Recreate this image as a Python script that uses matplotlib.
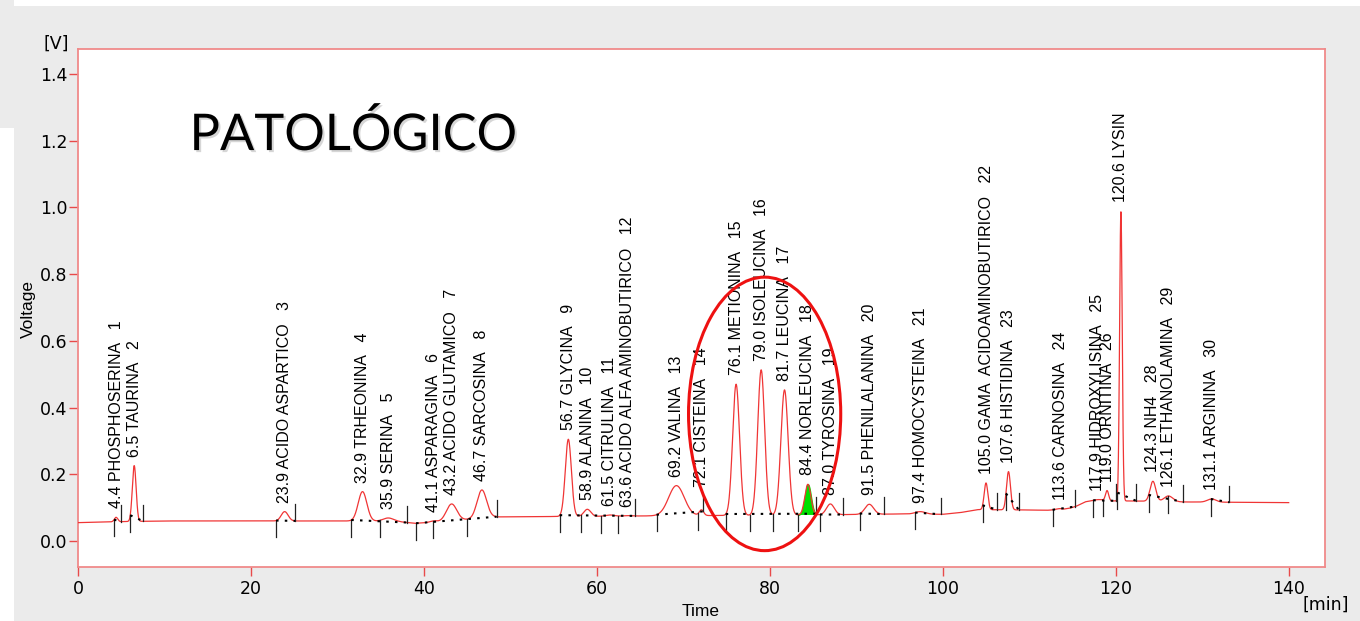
import numpy as np
import matplotlib
matplotlib.use('Agg')
import matplotlib.pyplot as plt
import matplotlib.patheffects as pe
from matplotlib.patches import Ellipse, Rectangle
from matplotlib import font_manager

# peak table
peak_times = [4.4, 6.5, 23.9, 32.9, 35.9, 41.1, 43.2, 46.7, 56.7, 58.9, 61.5, 63.6, 69.2, 72.1, 76.1,
              79.0, 81.7, 84.4, 87.0, 91.5, 97.4, 105.0, 107.6, 113.6, 117.9, 119.0, 120.6, 124.3, 126.1, 131.1]
peak_names = ['PHOSPHOSERINA', 'TAURINA', 'ACIDO ASPARTICO', 'TRHEONINA', 'SERINA', 'ASPARAGINA',
              'ACIDO GLUTAMICO', 'SARCOSINA', 'GLYCINA', 'ALANINA', 'CITRULINA', 'ACIDO ALFA AMINOBUTIRICO',
              'VALINA', 'CISTEINA', 'METIONINA', 'ISOLEUCINA', 'LEUCINA', 'NORLEUCINA', 'TYROSINA',
              'PHENILALANINA', 'HOMOCYSTEINA', 'GAMA  ACIDOAMINOBUTIRICO', 'HISTIDINA', 'CARNOSINA',
              'HIDROXYLISINA', 'ORNITINA', 'LYSIN', 'NH4', 'ETHANOLAMINA', 'ARGININA']
peak_ids = ['1', '2', '3', '4', '5', '6', '7', '8', '9', '10', '11', '12', '13', '14', '15',
            '16', '17', '18', '19', '20', '21', '22', '23', '24', '25', '26', '', '28', '29', '30']
peak_apex = [0.071, 0.226, 0.088, 0.148, 0.069, 0.060, 0.111, 0.153, 0.305, 0.095, 0.078, 0.076, 0.166, 0.093, 0.470,
             0.513, 0.453, 0.170, 0.111, 0.110, 0.088, 0.174, 0.208, 0.097, 0.124, 0.150, 0.988, 0.179, 0.135, 0.126]
peak_sigma = [0.2, 0.22, 0.4, 0.5, 0.6, 0.4, 0.6, 0.55, 0.35, 0.4, 0.5, 0.5, 0.9, 0.25, 0.4,
              0.4, 0.42, 0.35, 0.45, 0.5, 0.6, 0.21, 0.23, 0.6, 0.7, 0.18, 0.15, 0.33, 0.5, 0.5]

# drifting baseline of the detector
base_t = [0, 5, 10, 20, 30, 34, 37, 39, 41, 44, 48, 52, 60, 70, 80, 88, 95, 100, 102, 104, 110, 114, 115.5, 116.5, 118, 122, 128, 140]
base_v = [0.055, 0.058, 0.060, 0.060, 0.060, 0.060, 0.058, 0.053, 0.056, 0.062, 0.072, 0.073, 0.074, 0.076, 0.077, 0.079,
          0.081, 0.080, 0.085, 0.094, 0.093, 0.091, 0.105, 0.117, 0.120, 0.120, 0.117, 0.115]

# integration marks
start_marks = [4.16, 6.04, 22.9, 31.6, 34.9, 39.1, 41.1, 45.0, 55.7, 58.2, 60.5, 62.5, 66.9, 71.7, 74.9,
               77.7, 80.4, 83.3, 85.8, 90.4, 96.8, 104.6, 107.3, 112.7, 117.4, 118.5, 120.2, 123.8, 126.0, 131.0]
end_marks = [4.97, 7.55, 25.1, 38.1, 48.4, 64.4, 72.3, 85.3, 88.5, 93.2, 99.8, 106.3, 108.8, 115.3, 120.0,
             122.4, 127.8, 133.1]

names = {f.name for f in font_manager.fontManager.ttflist}
if 'Liberation Sans Narrow' in names:
    label_font, label_size = 'Liberation Sans Narrow', 13.5
else:
    label_font, label_size = 'Liberation Sans', 11.5

t = np.linspace(0, 140, 8000)
baseline = np.interp(t, base_t, base_v)
signal = baseline.copy()
for tc, apex, s in zip(peak_times, peak_apex, peak_sigma):
    amp = apex - np.interp(tc, base_t, base_v)
    signal += amp * np.exp(-0.5 * ((t - tc) / s) ** 2)

def sig_at(x):
    return float(np.interp(x, t, signal))

fig = plt.figure(figsize=(13.6, 6.21), dpi=100, facecolor='#ebebeb')
fig.patches.append(Rectangle((0, 0), 14 / 1360, 493 / 621, transform=fig.transFigure,
                             facecolor='white', edgecolor='none', zorder=-1))
fig.patches.append(Rectangle((14 / 1360, 1 - 6 / 621), 1, 6 / 621, transform=fig.transFigure,
                             facecolor='white', edgecolor='none', zorder=-1))
ax = fig.add_axes([78 / 1360, 54 / 621, 1247 / 1360, 518 / 621])

ax.plot(t, signal, color='#f03535', lw=0.9, zorder=3)

# tick marks at peak starts (down) and ends (up)
for x in start_marks:
    y0 = sig_at(x)
    ax.plot([x, x], [y0, y0 - 0.05], color='#222222', lw=0.9, zorder=4)
for x in end_marks:
    y0 = sig_at(x)
    ax.plot([x, x], [y0, y0 + 0.05], color='#222222', lw=0.9, zorder=4)

# dotted integration baselines
events = sorted([(x, 0) for x in start_marks] + [(x, 1) for x in end_marks])
segs = []
open_t = None
for x, kind in events:
    if kind == 0 and open_t is None:
        open_t = x
    elif kind == 1 and open_t is not None:
        segs.append((open_t, x))
        open_t = None
for a, b in segs:
    ax.plot([a, b], [sig_at(a), sig_at(b)], color='black', lw=1.5, ls=(0, (1.2, 3)), zorder=4)

# filled peak (norleucina)
a, b = 74.9, 85.3
m = (t >= 83.3) & (t <= b)
line = sig_at(a) + (sig_at(b) - sig_at(a)) * (t[m] - a) / (b - a)
ax.fill_between(t[m], line, signal[m], color='#00e000', zorder=2)

# peak labels
for tc, name, pid, apex in zip(peak_times, peak_names, peak_ids, peak_apex):
    txt = f'{tc:.1f} {name}' + (f'   {pid}' if pid else '')
    lift = 0.07 if pid == '14' else 0.027
    ax.text(tc, apex + lift, txt, rotation=90, ha='center', va='bottom',
            fontsize=label_size, family=label_font, color='black', zorder=5)

ax.add_patch(Ellipse((79.4, 0.381), 17.6, 0.82, fill=False, ec='#ee1111', lw=2.2, zorder=6))

ax.text(12.9, 1.172, 'PATOLÓGICO', fontsize=36.5, family='Lato', color='black', va='baseline',
        path_effects=[pe.SimplePatchShadow(offset=(1.5, -1.5), shadow_rgbFace='0.55', alpha=0.35), pe.Normal()])

ax.set_xlim(0, 144.2)
ax.set_ylim(-0.078, 1.475)
ax.set_xticks(np.arange(0, 141, 20))
ax.set_yticks(np.arange(0, 1.41, 0.2))
ax.set_yticklabels([f'{v:.1f}' for v in np.arange(0, 1.41, 0.2)])
for sp in ax.spines.values():
    sp.set_color('#f08a8a')
    sp.set_linewidth(1.3)
ax.tick_params(colors='#e84a4a', labelcolor='black', length=6.5, width=1, labelsize=12.5)
ax.tick_params(axis='y', pad=1)
ax.tick_params(axis='x', pad=3)

fig.text(28 / 1360, 1 - 309 / 621, 'Voltage', rotation=90, ha='center', va='center',
         fontsize=12.5, family='Liberation Sans')
fig.text(701 / 1360, 1 - 612 / 621, 'Time', ha='center', va='center', fontsize=12.5, family='Liberation Sans')
fig.text(56 / 1360, 1 - 44 / 621, '[V]', ha='center', va='center', fontsize=12.5)
fig.text(1326 / 1360, 1 - 605 / 621, '[min]', ha='center', va='center', fontsize=12.5)

fig.savefig('out.png', dpi=100, facecolor=fig.get_facecolor())
